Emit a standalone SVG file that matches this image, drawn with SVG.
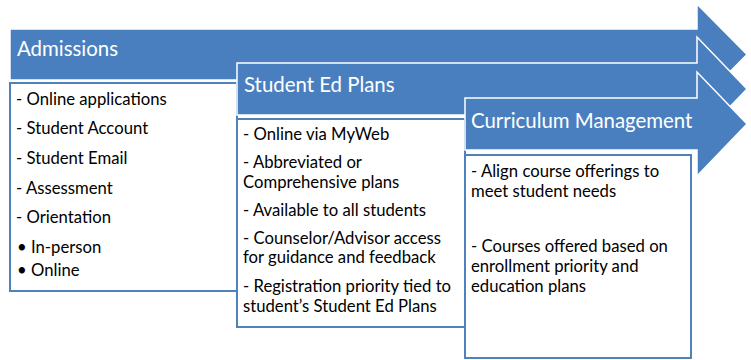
<svg xmlns="http://www.w3.org/2000/svg" width="751" height="360" viewBox="0 0 751 360">
<style>
.arrow{fill:#4A7FBF;stroke:#FFFFFF;stroke-width:1.5}
.box{fill:#FFFFFF;stroke:#4F81BD;stroke-width:2}
.title{font-family:Lato,"Liberation Sans",sans-serif;font-size:20.4px;fill:#FFFFFF}
.item{font-family:Lato,"Liberation Sans",sans-serif;font-size:16.7px;fill:#000000}
</style>
<rect width="751" height="360" fill="#FFFFFF"/>
<g id="admissions">
<polygon class="arrow" points="10,29 697,29 697,4 747,54.5 697,105 697,80 10,80"/>
<text class="title" x="17" y="56">Admissions</text>
</g>
<g id="admissions-list">
<rect class="box" x="10" y="83" width="227" height="208"/>
<text class="item" x="16" y="105">- Online applications</text>
<text class="item" x="16" y="134">- Student Account</text>
<text class="item" x="16" y="164">- Student Email</text>
<text class="item" x="16" y="194">- Assessment</text>
<text class="item" x="16" y="223">- Orientation</text>
<text class="item" x="17" y="253">•</text>
<text class="item" x="31" y="253">In-person</text>
<text class="item" x="17" y="276">•</text>
<text class="item" x="31" y="276">Online</text>
</g>
<g id="student-ed-plans">
<polygon class="arrow" points="237,63 697,63 697,37 747,89 697,141 697,115 237,115"/>
<text class="title" x="244" y="92">Student Ed Plans</text>
</g>
<g id="student-ed-plans-list">
<rect class="box" x="237" y="119" width="228" height="208"/>
<text class="item" x="243" y="140">- Online via MyWeb</text>
<text class="item" x="243" y="168">- Abbreviated or</text>
<text class="item" x="243" y="188">Comprehensive plans</text>
<text class="item" x="243" y="216">- Available to all students</text>
<text class="item" x="243" y="244">- Counselor/Advisor access</text>
<text class="item" x="243" y="263">for guidance and feedback</text>
<text class="item" x="243" y="292">- Registration priority tied to</text>
<text class="item" x="243" y="312">student’s Student Ed Plans</text>
</g>
<g id="curriculum-management">
<polygon class="arrow" points="465,98 697,98 697,72 747,124 697,176 697,150 465,150"/>
<text class="title" x="471" y="128">Curriculum Management</text>
</g>
<g id="curriculum-management-list">
<rect class="box" x="465" y="155" width="226" height="203"/>
<text class="item" x="471" y="177">- Align course offerings to</text>
<text class="item" x="471" y="197">meet student needs</text>
<text class="item" x="471" y="252">- Courses offered based on</text>
<text class="item" x="471" y="272">enrollment priority and</text>
<text class="item" x="471" y="292">education plans</text>
</g>
<g id="connectors"></g>
</svg>
